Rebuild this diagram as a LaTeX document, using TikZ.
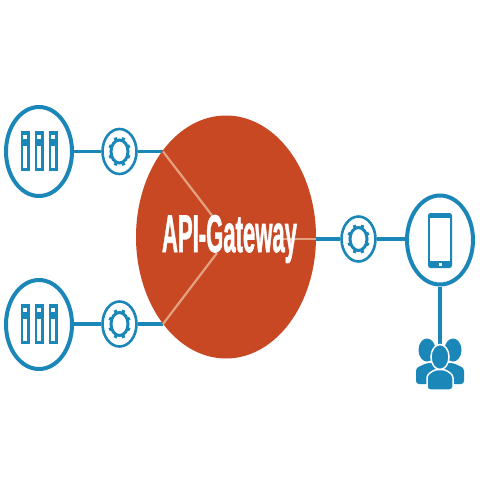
\documentclass[tikz,border=0pt]{standalone}
\usepackage{fontspec}
\setmainfont{Liberation Sans}
\usetikzlibrary{shapes.geometric}
\definecolor{hubblue}{HTML}{1B87B9}
\definecolor{gwred}{HTML}{C94824}
\definecolor{spoke}{HTML}{E3A27F}
\tikzset{
  bigring/.style={ellipse,draw=hubblue,line width=4pt,fill=white,minimum width=66pt,minimum height=89pt,inner sep=0pt},
  smallring/.style={ellipse,draw=hubblue,line width=2.6pt,fill=white,minimum width=34pt,minimum height=45pt,inner sep=0pt},
  gateway/.style={ellipse,fill=gwred,draw=none,minimum width=180pt,minimum height=243pt,inner sep=0pt},
  link/.style={draw=hubblue,line width=3.4pt},
  spokeline/.style={draw=spoke,line width=2.2pt},
  gearicon/.pic={
    \draw[hubblue,line width=3pt] (0,0) ellipse [x radius=8.5pt,y radius=11.5pt];
    \foreach \a in {0,45,...,315}
      \draw[hubblue,line width=3.2pt] ({9*cos(\a+22.5)},{12.5*sin(\a+22.5)}) -- ({11.2*cos(\a+22.5)},{15*sin(\a+22.5)});
  },
  rackicon/.pic={
    \foreach \dx in {-14,0,14} {
      \fill[hubblue] (\dx-4.5,-20) rectangle (\dx+4.5,20);
      \fill[white] (\dx-1.8,-16.5) rectangle (\dx+1.8,-12.5);
      \fill[white] (\dx-2,-5) rectangle (\dx+2,17);
    }
  },
  phoneicon/.pic={
    \fill[hubblue,rounded corners=2.5pt] (-12,-27.5) rectangle (12,27.5);
    \fill[white] (-9.8,-22.5) rectangle (9.8,20);
    \fill[white] (-1.5,22) rectangle (1.5,25.5);
  }
}
\begin{document}
\begin{tikzpicture}[x=1pt,y=-1pt]
\useasboundingbox (0,0) rectangle (480,480);
\fill[white] (0,0) rectangle (480,480);
% anchor points on the gateway rim
\coordinate (rimA) at (163,151.5);
\coordinate (rimB) at (163,324);
\coordinate (rimC) at (316,239);
\coordinate (innerA) at (214,218);
\coordinate (innerB) at (217,253);
\coordinate (innerC) at (282,239);
% rings
\node[bigring] (srvA) at (39,151.5) {};
\node[bigring] (srvB) at (39,324.5) {};
\node[smallring] (gearA) at (119.5,151.5) {};
\node[smallring] (gearB) at (119.5,324) {};
\node[smallring] (gearC) at (358.5,239) {};
\node[bigring] (phone) at (440,240) {};
\coordinate (crowd) at (440,345);
% connectors
\draw[link] (srvA.east) -- (gearA.west);
\draw[link] (gearA.east) -- (rimA);
\draw[link] (srvB.east |- gearB.west) -- (gearB.west);
\draw[link] (gearB.east) -- (rimB);
\draw[link] (rimC) -- (gearC.west);
\draw[link] (gearC.east) -- (gearC.east -| phone.west);
\draw[link] (phone.south) -- (crowd);
% gateway
\node[gateway] (gw) at (226,237) {};
\draw[spokeline] (rimA) -- (innerA);
\draw[spokeline] (rimB) -- (innerB);
\draw[spokeline] (innerC) -- (rimC);
\node[inner sep=0pt,text=white] (gwlabel) at (229.5,239) {\resizebox*{135pt}{48pt}{\addfontfeature{FakeBold=1.6}\bfseries API-Gateway}};
% icons
\pic at (39,151) {rackicon};
\pic at (39,324) {rackicon};
\pic at (119.5,151.5) {gearicon};
\pic at (119.5,324) {gearicon};
\pic at (358.5,239) {gearicon};
\pic at (440,240.5) {phoneicon};
% people
\fill[hubblue] (427,350) ellipse [x radius=8.5pt,y radius=11.5pt];
\fill[hubblue] (453,350) ellipse [x radius=8.5pt,y radius=11.5pt];
\fill[hubblue,rounded corners=3pt] (416,384) -- (416,368) -- (427,363) -- (453,363) -- (464,368) -- (464,384) -- cycle;
\fill[hubblue,draw=white,line width=1.5pt] (440,357) ellipse [x radius=9pt,y radius=12.5pt];
\fill[hubblue,draw=white,line width=1.5pt,rounded corners=3pt] (427,390) -- (427,375) -- (435,369.5) -- (445,369.5) -- (453,375) -- (453,390) -- cycle;
\end{tikzpicture}
\end{document}
